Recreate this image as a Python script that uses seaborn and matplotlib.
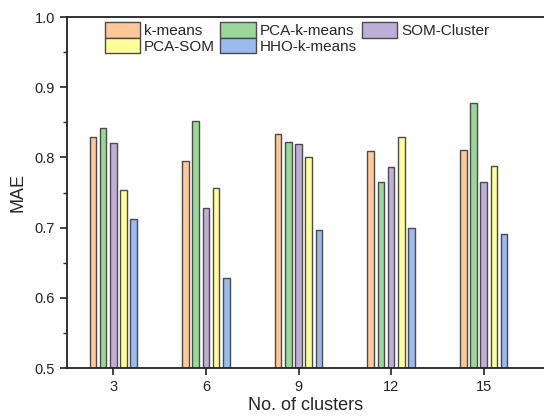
import pandas as pd
import numpy as np
import seaborn as sns
import matplotlib.pyplot as plt
from matplotlib.ticker import MultipleLocator

# dados
clusters = ["3", "6", "9", "12", "15"]
metodos = ["k-means", "PCA-k-means", "SOM-Cluster", "PCA-SOM", "HHO-k-means"]
kmeans = [0.829, 0.795, 0.834, 0.809, 0.811]
pca_kmeans = [0.842, 0.852, 0.822, 0.765, 0.878]
som_cluster = [0.820, 0.728, 0.819, 0.786, 0.765]
pca_som = [0.753, 0.756, 0.800, 0.829, 0.788]
hho_kmeans = [0.713, 0.628, 0.697, 0.699, 0.691]

cores = ["#FFC896", "#9AD89A", "#BFAFD8", "#FFFF99", "#99BBF0"]

df = pd.DataFrame({"k-means": kmeans, "PCA-k-means": pca_kmeans, "SOM-Cluster": som_cluster,
                   "PCA-SOM": pca_som, "HHO-k-means": hho_kmeans}, index=clusters)
df = df.reset_index().melt(id_vars="index", var_name="Metodo", value_name="MAE")
df = df.rename(columns={"index": "Clusters"})

sns.set_style("ticks")
plt.rcParams['font.family'] = ['Liberation Sans', 'DejaVu Sans']

fig = plt.figure(figsize=(5.44, 4.17), dpi=100)
ax = fig.add_axes([0.123, 0.1175, 0.877, 0.8415])

sns.barplot(data=df, x="Clusters", y="MAE", hue="Metodo", order=clusters, hue_order=metodos,
            palette=cores, width=0.55, gap=0.35, edgecolor="#4a4a4a", linewidth=1.0,
            saturation=1, ax=ax, legend=True)

# limites e ticks
ax.set_ylim(0.5, 1.0)
ax.set_xlim(-0.5, 4.65)
ax.yaxis.set_major_locator(MultipleLocator(0.1))
ax.yaxis.set_minor_locator(MultipleLocator(0.05))
ax.tick_params(axis="both", labelsize=10.5, width=1.2, length=5, direction="out", colors="#222222")
ax.tick_params(axis="y", which="minor", length=3, width=1.0)
ax.set_xlabel("No. of clusters", fontsize=13, labelpad=2)
ax.set_ylabel("MAE", fontsize=13, labelpad=6)
for s in ["left", "bottom", "top"]:
    ax.spines[s].set_linewidth(1.3)
    ax.spines[s].set_color("#222222")
ax.spines["right"].set_visible(False)

# legenda: 2 linhas, 3 colunas
h, l = ax.get_legend_handles_labels()
ordem = [0, 3, 1, 4, 2]
ax.legend([h[i] for i in ordem], [l[i] for i in ordem], ncol=3, frameon=False,
          loc="upper left", bbox_to_anchor=(0.068, 1.0), fontsize=11,
          handlelength=2.3, handleheight=1.15, columnspacing=0.35, handletextpad=0.28,
          labelspacing=0.0, borderaxespad=0.15, borderpad=0.2)

fig.savefig("out.png", dpi=100)
